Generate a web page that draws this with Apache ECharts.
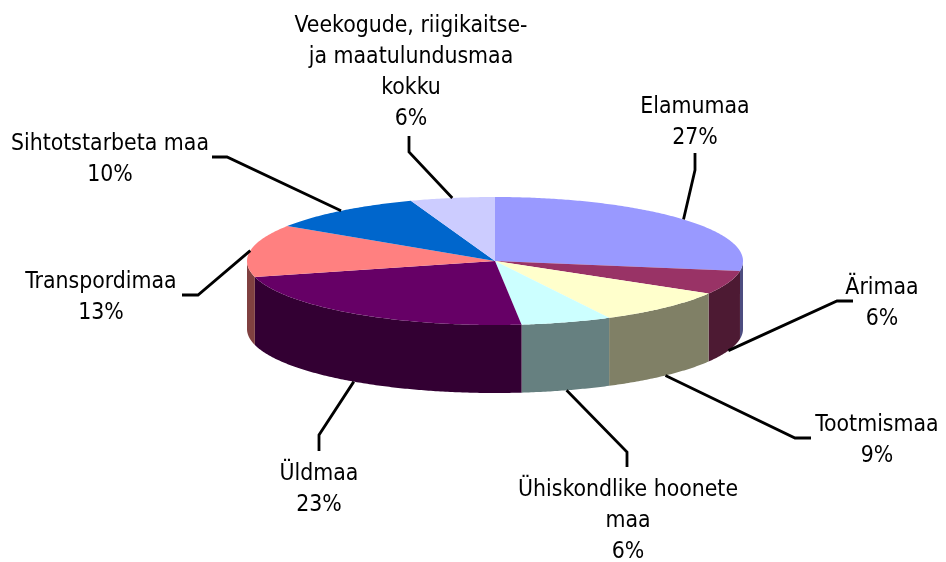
<!DOCTYPE html>
<html><head><meta charset="utf-8">
<style>html,body{margin:0;padding:0;background:#fff}#c{width:946px;height:562px}</style>
<script src="https://cdn.jsdelivr.net/npm/echarts@6/dist/echarts.min.js"></script>
</head><body><div id="c"></div>
<script>
// Data, clockwise from 12 o'clock. Shares; labels show them rounded.
const categories = ['Elamumaa','Ärimaa','Tootmismaa','Ühiskondlike hoonete\nmaa','Üldmaa','Transpordimaa','Sihtotstarbeta maa','Veekogude, riigikaitse-\nja maatulundusmaa\nkokku'];
const shares = [27.49,6.0,8.9,5.9,22.7,13.2,10.3,5.51];
const topColors = ['#9999FF','#993366','#FFFFCC','#CCFFFF','#660066','#FF8080','#0066CC','#CCCCFF'];
const sideColors = ['#4D4D80','#4D1A33','#808066','#668080','#330033','#804040','#003366','#666680'];

// Layout (not data)
const CX = 495, CY = 261, RX = 248, RY = 64, DEPTH = 68;
const FONT = '22.8px "DejaVu Sans Condensed"', LINE_H = 31;
const labelCenters = [[695,123],[882,304],[877,441],[628,521],[319,490],[101,298],[110,160],[411,73]];
const elbows = [[[695,170],[695,153]],[[837,301],[853,301]],[[795,438],[811,438]],[[627,452],[627,467]],[[319,435],[319,451]],[[198,295],[182,295]],[[227,157],[212,157]],[[409,152],[409,136]]];

const total = shares.reduce((a,b)=>a+b,0);
const toAngle = v => v/total*Math.PI*2;
const px = (a,dy) => [CX+RX*Math.sin(a), CY-RY*Math.cos(a)+(dy||0)];
function arc(a0,a1,dy){const n=Math.max(2,Math.ceil((a1-a0)/0.01));const p=[];for(let i=0;i<=n;i++)p.push(px(a0+(a1-a0)*i/n,dy));return p;}

function renderItem(params, api){
  const i = params.dataIndex;
  let before = 0; for(let k=0;k<i;k++) before += shares[k];
  const v = api.value(0);
  const a0 = toAngle(before), a1 = toAngle(before+v), mid = (a0+a1)/2;
  const children = [];
  const s0 = Math.max(a0,Math.PI/2), s1 = Math.min(a1,Math.PI*1.5);
  if(s1>s0){
    children.push({type:'polygon',shape:{points:arc(s0,s1,0).concat(arc(s0,s1,DEPTH).reverse())},style:{fill:sideColors[i]}});
  }
  children.push({type:'polygon',shape:{points:[[CX,CY]].concat(arc(a0,a1,0))},style:{fill:topColors[i]}});
  const anchor = px(mid, Math.cos(mid)<0 ? DEPTH : 0);
  children.push({type:'polyline',shape:{points:[anchor].concat(elbows[i])},style:{stroke:'#000',lineWidth:2.8,fill:null},z2:5});
  children.push({type:'text',style:{text:categories[i]+'\n'+Math.round(v)+'%',x:labelCenters[i][0],y:labelCenters[i][1],align:'center',verticalAlign:'middle',font:FONT,lineHeight:LINE_H,fill:'#000'},z2:6});
  return {type:'group',children};
}

const chart = echarts.init(document.getElementById('c'),null,{renderer:'canvas'});
chart.setOption({
  animation:false,
  backgroundColor:'#fff',
  series:[{type:'custom',coordinateSystem:'none',renderItem,data:shares.map(v=>[v]),silent:true,clip:false}]
});
</script></body></html>
